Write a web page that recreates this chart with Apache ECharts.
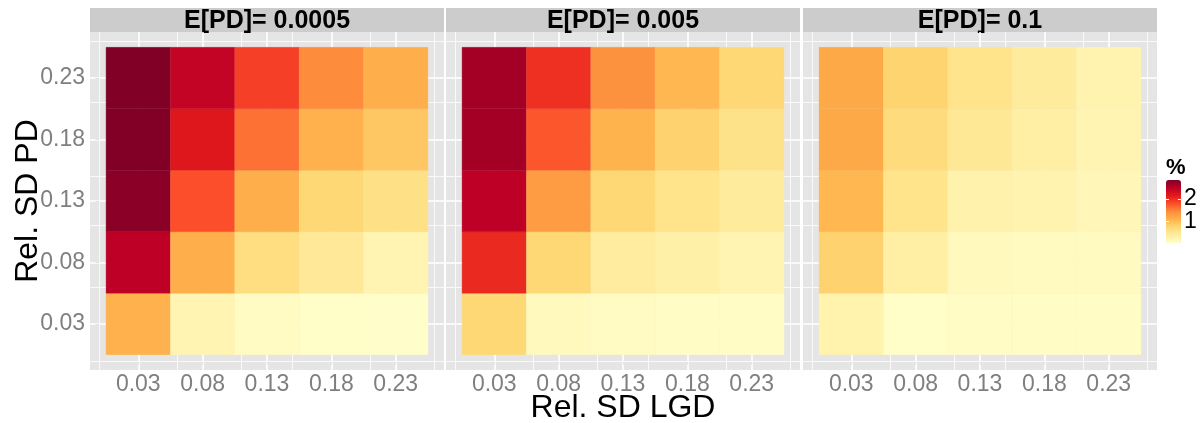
<!DOCTYPE html>
<html>
<head>
<meta charset="utf-8">
<script src="https://cdn.jsdelivr.net/npm/echarts@6/dist/echarts.min.js"></script>
<style>
  html, body { margin: 0; padding: 0; background: #ffffff; }
  #chart { width: 1200px; height: 423px; }
</style>
</head>
<body>
<div id="chart"></div>
<script>
// Grid of relative standard deviations (x: LGD, y: PD)
const lgdVals = [0.03, 0.08, 0.13, 0.18, 0.23];
const pdVals = [0.03, 0.08, 0.13, 0.18, 0.23];
const panelTitles = ['E[PD]= 0.0005', 'E[PD]= 0.005', 'E[PD]= 0.1'];

// Values in %, one row per PD level (0.03 -> 0.23), columns follow lgdVals
const valsPD0005 = [
  [1.10, 0.25, 0.10, 0.06, 0.05],
  [2.50, 1.12, 0.65, 0.45, 0.25],
  [2.80, 1.80, 1.12, 0.75, 0.60],
  [2.85, 2.20, 1.60, 1.10, 0.90],
  [2.86, 2.45, 1.90, 1.45, 1.12]
];
const valsPD005 = [
  [0.75, 0.15, 0.10, 0.08, 0.09],
  [2.05, 0.75, 0.40, 0.32, 0.25],
  [2.50, 1.30, 0.75, 0.55, 0.42],
  [2.65, 1.75, 1.08, 0.80, 0.58],
  [2.65, 2.00, 1.40, 1.05, 0.75]
];
const valsPD01 = [
  [0.27, 0.06, 0.08, 0.09, 0.09],
  [0.80, 0.35, 0.15, 0.13, 0.13],
  [1.05, 0.55, 0.28, 0.26, 0.20],
  [1.18, 0.68, 0.48, 0.35, 0.24],
  [1.18, 0.78, 0.55, 0.42, 0.26]
];
const panelValues = [valsPD0005, valsPD005, valsPD01];

// Colour bar range and labelled breaks
const colorMin = 0.03;
const colorMax = 2.86;
const colorBreaks = [1, 2];
const ylOrRd = ['#FFFFCC', '#FFEDA0', '#FED976', '#FEB24C', '#FD8D3C',
                '#FC4E2A', '#E31A1C', '#BD0026', '#800026'];

// Axis extent: tiles span half a step either side, plus 5% expansion
const step = lgdVals[1] - lgdVals[0];
const half = step / 2;
const lo = lgdVals[0] - half;
const hi = lgdVals[lgdVals.length - 1] + half;
const pad = (hi - lo) * 0.05;
const axisMin = lo - pad;
const axisMax = hi + pad;
const minorBreaks = [lo].concat(lgdVals.slice(1).map((v, i) => (v + lgdVals[i]) / 2), [hi]);

const FONT = '"Liberation Sans", Arial, sans-serif';
const panelLeft = [90, 446, 803];
const panelWidth = 354;
const panelTop = 32;
const panelHeight = 338;

function tileItem(params, api) {
  const x = api.value(0), y = api.value(1);
  const p1 = api.coord([x - half, y + half]);
  const p2 = api.coord([x + half, y - half]);
  const c = api.visual('color');
  return {
    type: 'rect',
    shape: { x: p1[0], y: p1[1], width: p2[0] - p1[0], height: p2[1] - p1[1] },
    style: { fill: c, stroke: c, lineWidth: 0.4 }
  };
}

function gridLines() {
  const data = [];
  lgdVals.forEach(v => data.push({ xAxis: v, lineStyle: { width: 1.6 } }));
  minorBreaks.forEach(v => data.push({ xAxis: v, lineStyle: { width: 0.8 } }));
  pdVals.forEach(v => data.push({ yAxis: v, lineStyle: { width: 1.6 } }));
  minorBreaks.forEach(v => data.push({ yAxis: v, lineStyle: { width: 0.8 } }));
  return {
    silent: true, symbol: ['none', 'none'], z: 1, animation: false,
    label: { show: false },
    lineStyle: { color: '#ffffff', type: 'solid' },
    emphasis: { disabled: true },
    data: data
  };
}

const grids = [], xAxes = [], yAxes = [], series = [], graphics = [];

panelTitles.forEach((title, i) => {
  grids.push({
    left: panelLeft[i], top: panelTop, width: panelWidth, height: panelHeight,
    show: true, backgroundColor: '#E5E5E5', borderWidth: 0,
    containLabel: false, outerBoundsMode: 'none'
  });
  xAxes.push({
    type: 'value', gridIndex: i, min: axisMin, max: axisMax,
    axisLine: { show: false },
    splitLine: { show: false },
    axisTick: { show: true, customValues: lgdVals, length: 4, lineStyle: { color: '#7F7F7F', width: 1 } },
    axisLabel: {
      show: true, customValues: lgdVals, margin: 3, hideOverlap: false,
      color: '#7F7F7F', fontSize: 23, fontFamily: FONT,
      formatter: v => v.toFixed(2)
    },
    name: i === 1 ? 'Rel. SD LGD' : '',
    nameLocation: 'middle', nameGap: 22, nameMoveOverlap: false,
    nameTextStyle: { color: '#000000', fontSize: 32, fontFamily: FONT }
  });
  yAxes.push({
    type: 'value', gridIndex: i, min: axisMin, max: axisMax,
    axisLine: { show: false },
    splitLine: { show: false },
    axisTick: { show: i === 0, customValues: pdVals, length: 4, lineStyle: { color: '#7F7F7F', width: 1 } },
    axisLabel: {
      show: i === 0, customValues: pdVals, margin: 5, hideOverlap: false,
      color: '#7F7F7F', fontSize: 23, fontFamily: FONT,
      formatter: v => v.toFixed(2)
    },
    name: i === 0 ? 'Rel. SD PD' : '',
    nameLocation: 'middle', nameGap: 46, nameRotate: 90, nameMoveOverlap: false,
    nameTextStyle: { color: '#000000', fontSize: 32, fontFamily: FONT }
  });
  const data = [];
  panelValues[i].forEach((row, r) => {
    row.forEach((v, c) => data.push([lgdVals[c], pdVals[r], v]));
  });
  series.push({
    type: 'custom', name: title, xAxisIndex: i, yAxisIndex: i, z: 10,
    renderItem: tileItem, data: data, animation: false, silent: true,
    encode: { x: 0, y: 1 },
    markLine: gridLines()
  });
  // facet strip
  graphics.push({
    type: 'rect', left: panelLeft[i], top: 8,
    shape: { width: panelWidth, height: 24 },
    style: { fill: '#CCCCCC' }, silent: true
  });
  graphics.push({
    type: 'text', x: panelLeft[i] + panelWidth / 2, y: 21,
    style: {
      text: title, fill: '#000000', font: 'bold 25px ' + FONT,
      textAlign: 'center', textVerticalAlign: 'middle'
    }, silent: true
  });
});

// Colour bar: one scale axis per labelled break (white ticks inside the bar)
const barLeft = 1166, barTop = 180, barW = 15, barH = 63;
grids.push({ left: barLeft, top: barTop, width: barW, height: barH, show: false, outerBoundsMode: 'none' });
xAxes.push({ type: 'value', gridIndex: 3, show: false, min: 0, max: 1 });
colorBreaks.forEach(b => {
  yAxes.push({
    type: 'value', gridIndex: 3, min: colorMin, max: colorMax, position: 'right', offset: 0, z: 20,
    axisLine: { show: false }, splitLine: { show: false },
    axisTick: { show: true, inside: true, length: 3, customValues: [b], lineStyle: { color: '#ffffff', width: 1 } },
    axisLabel: {
      show: true, customValues: [b], margin: 3, hideOverlap: false,
      color: '#000000', fontSize: 23, fontFamily: FONT
    }
  });
});
yAxes.push({
  type: 'value', gridIndex: 3, min: colorMin, max: colorMax, position: 'left', z: 20,
  axisLine: { show: false }, splitLine: { show: false },
  axisTick: { show: true, inside: true, length: 3, customValues: colorBreaks, lineStyle: { color: '#ffffff', width: 1 } },
  axisLabel: { show: false }
});
graphics.push({
  type: 'text', x: barLeft, y: barTop - 1,
  style: { text: '%', fill: '#000000', font: 'bold 22px ' + FONT, textAlign: 'left', textVerticalAlign: 'bottom' },
  silent: true
});

const chart = echarts.init(document.getElementById('chart'), null, { renderer: 'canvas' });
chart.setOption({
  animation: false,
  backgroundColor: '#ffffff',
  grid: grids,
  xAxis: xAxes,
  yAxis: yAxes,
  visualMap: {
    type: 'continuous', min: colorMin, max: colorMax, dimension: 2,
    seriesIndex: [0, 1, 2], calculable: false, realtime: false,
    left: barLeft, top: barTop, itemWidth: barW, itemHeight: barH,
    padding: 0, text: null, showLabel: false, hoverLink: false,
    inRange: { color: ylOrRd }
  },
  graphic: graphics,
  series: series
});
</script>
</body>
</html>
